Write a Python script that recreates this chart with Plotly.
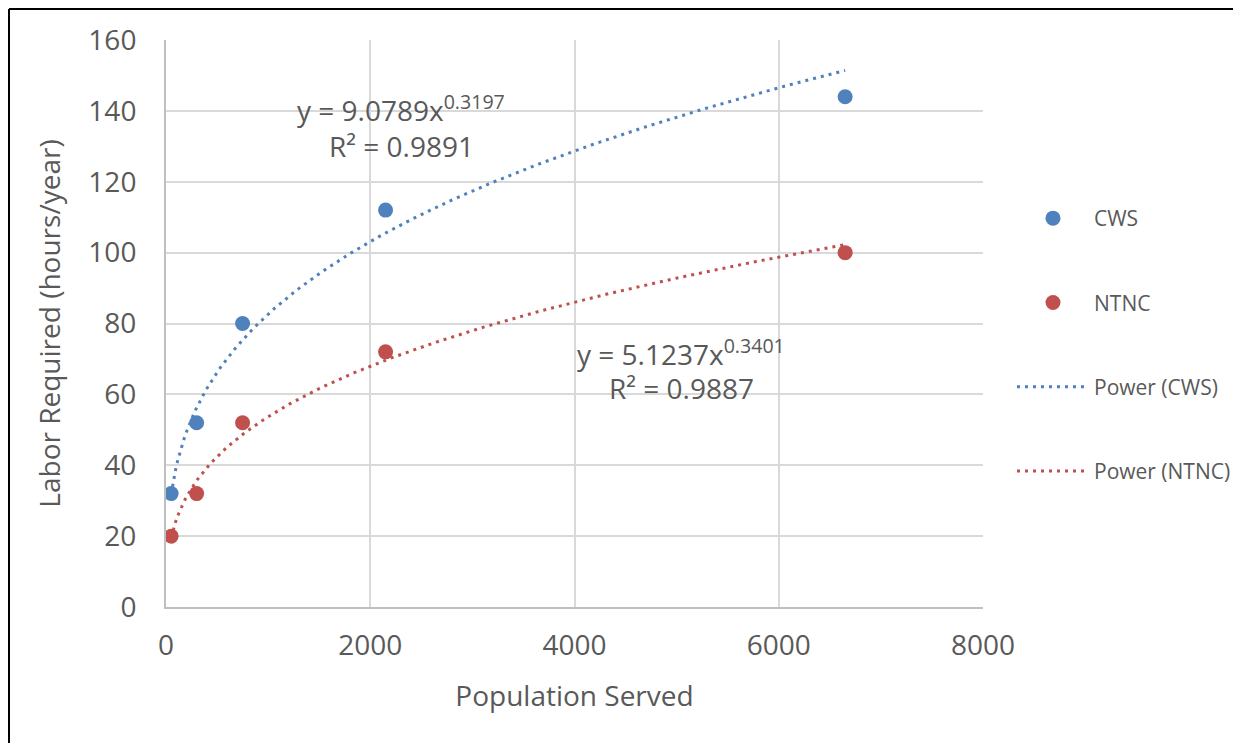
import plotly.graph_objects as go
import numpy as np

# Data
population = [50, 300, 750, 2150, 6650]
cws_labor = [32, 52, 80, 112, 144]
ntnc_labor = [20, 32, 52, 72, 100]

# Power-trend coefficients displayed on the chart
cws_a, cws_b, cws_r2 = 9.0789, 0.3197, 0.9891
ntnc_a, ntnc_b, ntnc_r2 = 5.1237, 0.3401, 0.9887

x_ticks = [0, 2000, 4000, 6000, 8000]
y_ticks = [0, 20, 40, 60, 80, 100, 120, 140, 160]

BLUE = "#4F81BD"
RED = "#C0504D"
GRID = "#D9D9D9"
TXT = "#595959"
FONT = "Open Sans"

W, H = 1241, 743
OFF = 8  # page body margin
L, R, T, B = 166, 983, 40, 607

trend_x = np.linspace(min(population), max(population), 300)

fig = go.Figure()
fig.add_trace(go.Scatter(x=population, y=cws_labor, mode="markers", name="CWS",
                         marker=dict(color=BLUE, size=15), legendgroup="a"))
fig.add_trace(go.Scatter(x=population, y=ntnc_labor, mode="markers", name="NTNC",
                         marker=dict(color=RED, size=15), legendgroup="b"))
fig.add_trace(go.Scatter(x=trend_x, y=cws_a * trend_x ** cws_b, mode="lines",
                         name="Power (CWS)", legendgroup="c",
                         line=dict(color=BLUE, width=3, dash="3px,5px")))
fig.add_trace(go.Scatter(x=trend_x, y=ntnc_a * trend_x ** ntnc_b, mode="lines",
                         name="Power (NTNC)", legendgroup="d",
                         line=dict(color=RED, width=3, dash="3px,5px")))

axis_common = dict(showgrid=True, gridcolor=GRID, gridwidth=2, zeroline=False,
                   showline=True, linecolor="#BFBFBF", linewidth=2, ticks="",
                   tickfont=dict(family=FONT, size=28, color=TXT))
fig.update_xaxes(range=[0, 8000], tickvals=x_ticks, ticklabelstandoff=12,
                 title=dict(text="Population Served", font=dict(family=FONT, size=28, color=TXT), standoff=25),
                 **axis_common)
fig.update_yaxes(range=[0, 160], tickvals=y_ticks, ticklabelstandoff=22,
                 title=dict(text="Labor Required (hours/year)", font=dict(family=FONT, size=28, color=TXT), standoff=20),
                 **axis_common)

def px2x(px):
    return (px - L) / (R - L)

def py2y(py):
    return (B - py) / (B - T)

ann_font = dict(family=FONT, size=28, color=TXT)
for cx, cy, txt in [
    (401, 108, f"y = {cws_a}x<sup>{cws_b}</sup>"),
    (401, 146, f"R² = {cws_r2}"),
    (681, 352, f"y = {ntnc_a}x<sup>{ntnc_b}</sup>"),
    (681, 388, f"R² = {ntnc_r2}"),
]:
    fig.add_annotation(xref="paper", yref="paper", x=px2x(cx), y=py2y(cy),
                       xanchor="center", yanchor="middle",
                       text=txt, showarrow=False, font=ann_font)

# Outer chart border (top and left edges visible), drawn at the figure's edge
edge = OFF + 1
fig.add_shape(type="line", xref="paper", yref="paper", x0=px2x(edge), x1=px2x(1260),
              y0=py2y(edge), y1=py2y(edge), line=dict(color="black", width=2))
fig.add_shape(type="line", xref="paper", yref="paper", x0=px2x(edge), x1=px2x(edge),
              y0=py2y(edge), y1=py2y(760), line=dict(color="black", width=2))

fig.update_layout(
    width=W, height=H,
    margin=dict(l=L - OFF, r=W - R + OFF, t=T - OFF, b=H - B + OFF),
    paper_bgcolor="white", plot_bgcolor="white",
    showlegend=True,
    legend=dict(x=px2x(1012), y=py2y(198), xanchor="left", yanchor="top",
                font=dict(family=FONT, size=21, color=TXT),
                tracegroupgap=54, itemwidth=72, bgcolor="rgba(0,0,0,0)"),
    hovermode=False,
)

fig.write_html("out.html")
